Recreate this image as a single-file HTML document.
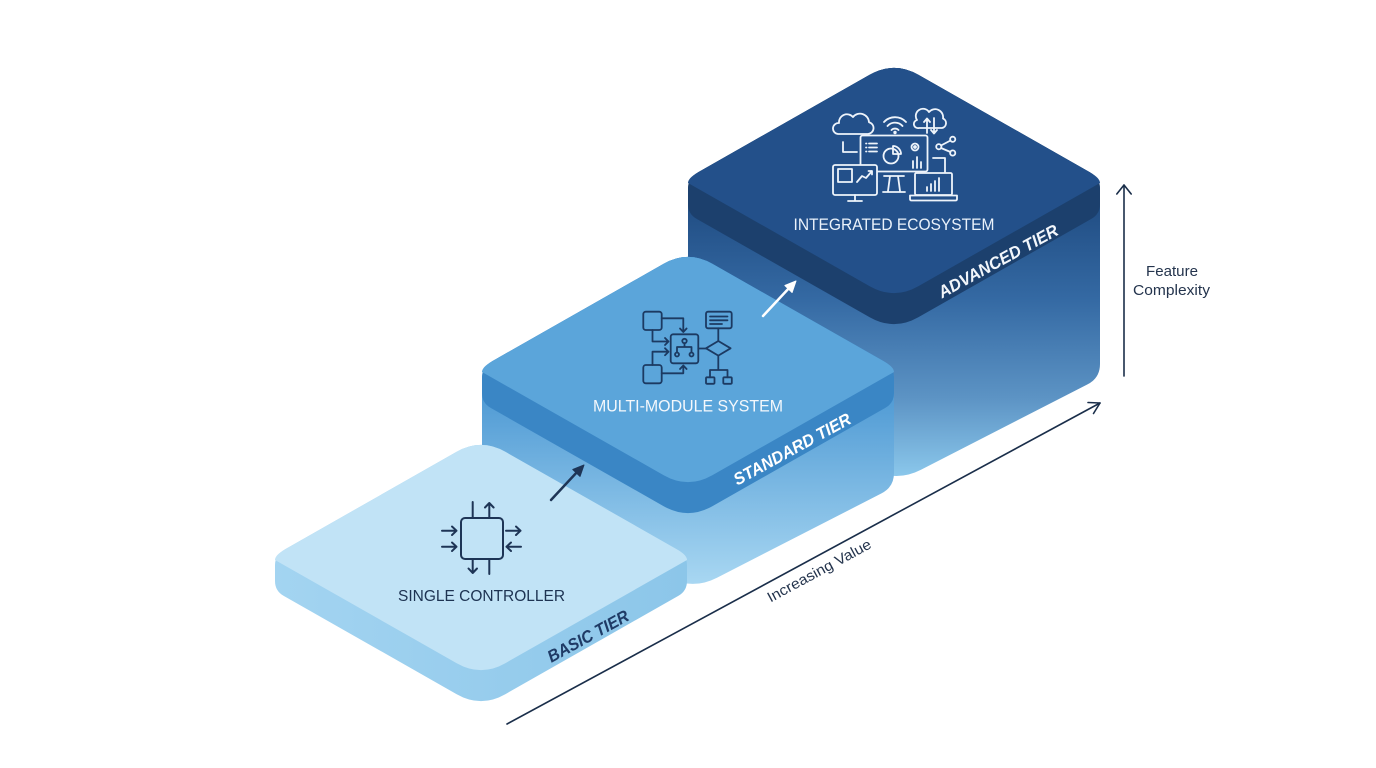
<!DOCTYPE html>
<html><head><meta charset="utf-8"><style>html,body{margin:0;padding:0;background:#fff;width:1376px;height:768px;overflow:hidden}</style></head>
<body>
<svg width="1376" height="768" viewBox="0 0 1376 768" xmlns="http://www.w3.org/2000/svg" font-family="'Liberation Sans', Arial, sans-serif">
<defs>
<linearGradient id="advBody" gradientUnits="userSpaceOnUse" x1="0" y1="200" x2="0" y2="482">
<stop offset="0" stop-color="#204c82"/><stop offset="0.35" stop-color="#3469a3"/><stop offset="0.7" stop-color="#5c93c4"/><stop offset="1" stop-color="#8ecbee"/>
</linearGradient>
<linearGradient id="stdBody" gradientUnits="userSpaceOnUse" x1="0" y1="400" x2="0" y2="590">
<stop offset="0" stop-color="#529cd5"/><stop offset="1" stop-color="#abd9f3"/>
</linearGradient>
<linearGradient id="basBand" gradientUnits="userSpaceOnUse" x1="-206" y1="0" x2="206" y2="0">
<stop offset="0" stop-color="#a3d4f1"/><stop offset="1" stop-color="#8cc6e9"/>
</linearGradient>
</defs>
<rect width="1376" height="768" fill="#fff"/>

<!-- ADVANCED -->
<path d="M918.3,74.8 L1089.6,172.1 Q1100,178 1100,190 L1100,364 Q1100,378 1087.5,384.4 L921,469.7 Q897,482 872.7,470.1 L700,385 Q688,380 688,370 L688,190 Q688,178 698.4,172.1 L869.7,74.8 Q894,61 918.3,74.8 Z" fill="url(#advBody)"/>
<g transform="translate(894,178)">
<path d="M24.3,-103.2 L195.6,-5.9 Q206,0 206,10 L206,26 Q206,36 197.3,40.9 L24.3,139.2 Q0,153 -24.3,139.2 L-197.3,40.9 Q-206,36 -206,26 L-206,10 Q-206,0 -195.6,-5.9 L-24.3,-103.2 Q0,-117 24.3,-103.2 Z" fill="#1c406d"/>
<path d="M24.3,-103.2 L195.6,-5.9 Q206,0 206,5 L24.3,108.2 Q0,122 -24.3,108.2 L-206,5 Q-206,0 -195.6,-5.9 L-24.3,-103.2 Q0,-117 24.3,-103.2 Z" fill="#23508a"/>
</g>
<!-- advanced icon -->
<g fill="none" stroke="#eef4fb" stroke-width="1.8" stroke-linecap="round" stroke-linejoin="round">
<path d="M838,134 H868 A6,6 0 0 0 869,122.2 A9,9 0 0 0 853,117 A8,8 0 0 0 839,123 A5.5,5.5 0 0 0 838,134 Z"/>
<path d="M884,122 A15,15 0 0 1 906,122 M887.5,126 A10,10 0 0 1 902.5,126 M891.5,130 A5,5 0 0 1 898.5,130"/>
<circle cx="895" cy="132.5" r="0.8" fill="#eef4fb"/>
<path d="M919,128 H942 A5,5 0 0 0 943,118.5 A8,8 0 0 0 929,112 A6.5,6.5 0 0 0 917,120 A4,4 0 0 0 919,128 Z"/>
<path d="M927,133 V119 M924,122 L927,118.5 L930,122 M934,118 V133 M931,130 L934,133.5 L937,130"/>
<rect x="860.5" y="135.5" width="67" height="36" rx="2" fill="#23508a"/>
<path d="M866,143.5 h0.5 M866,147.5 h0.5 M866,151.5 h0.5 M869,143.5 H877 M869,147.5 H877 M869,151.5 H877"/>
<circle cx="891" cy="156" r="7.5"/>
<path d="M893,146 A8,8 0 0 1 901,154 H893 Z"/>
<circle cx="915" cy="147" r="3.5"/><circle cx="915" cy="147" r="1"/>
<path d="M913,168 V161 M917,168 V157 M921,168 V162"/>
<path d="M843,142 V152 H857"/>
<circle cx="952.7" cy="139.3" r="2.6"/><circle cx="938.8" cy="146.7" r="2.6"/><circle cx="952.7" cy="153" r="2.6"/>
<path d="M941,145.5 L950.5,140.5 M941,148 L950.5,152"/>
<path d="M933,158 H945 V172"/>
<path d="M884,176 H904 M890,176 L888,191 M898,176 L900,191 M883,192 H905"/>
<rect x="833" y="165" width="44" height="30" rx="2" fill="#23508a"/>
<rect x="838" y="169" width="14" height="13"/>
<path d="M857,182 L862,176 L866,178 L872,171 M868.5,171 H872 V174.5"/>
<path d="M855,195 V200 M848,201 H862"/>
<rect x="915" y="173" width="37" height="22" rx="1.5" fill="#23508a"/>
<path d="M910,195.5 H957 V199 Q957,200.5 955.5,200.5 H911.5 Q910,200.5 910,199 Z" fill="#23508a"/>
<path d="M927,191 V187 M931,191 V184 M935,191 V181 M939,191 V178"/>
</g>
<text x="894" y="230" text-anchor="middle" font-size="16.5" fill="#eaf2fb" textLength="201" lengthAdjust="spacingAndGlyphs">INTEGRATED ECOSYSTEM</text>

<!-- STANDARD -->
<path d="M712.3,263.8 L883.6,361.1 Q894,367 894,379 L894,473 Q894,487 881.5,493.4 L717,577.7 Q693,590 669,578 L494,492 Q482,487 482,477 L482,379 Q482,367 492.4,361.1 L663.7,263.8 Q688,250 712.3,263.8 Z" fill="url(#stdBody)"/>
<g transform="translate(688,367)">
<path d="M24.3,-103.2 L195.6,-5.9 Q206,0 206,10 L206,26 Q206,36 197.3,40.9 L24.3,139.2 Q0,153 -24.3,139.2 L-197.3,40.9 Q-206,36 -206,26 L-206,10 Q-206,0 -195.6,-5.9 L-24.3,-103.2 Q0,-117 24.3,-103.2 Z" fill="#3a86c5"/>
<path d="M24.3,-103.2 L195.6,-5.9 Q206,0 206,5 L24.3,108.2 Q0,122 -24.3,108.2 L-206,5 Q-206,0 -195.6,-5.9 L-24.3,-103.2 Q0,-117 24.3,-103.2 Z" fill="#5ba5da"/>
</g>
<g fill="none" stroke="#1c3a62" stroke-width="1.8" stroke-linecap="round" stroke-linejoin="round">
<rect x="643.3" y="311.7" width="18.4" height="18.3" rx="2.5"/>
<rect x="643.3" y="365" width="18.4" height="18.3" rx="2.5"/>
<rect x="670.7" y="334.3" width="27.6" height="29" rx="2.5"/>
<circle cx="684.5" cy="341" r="2.2"/>
<path d="M684.5,343.2 V347 M677,347 H691.5 M677,347 V352.5 M691.5,347 V352.5"/>
<circle cx="677" cy="354.5" r="2"/><circle cx="691.5" cy="354.5" r="2"/>
<path d="M661.7,318.3 H683.3 V332 M680,328.5 L683.3,332 L686.6,328.5"/>
<path d="M652.5,330 V341.5 H668.5 M665,338 L668.5,341.5 L665,345"/>
<path d="M652.5,365 V351.7 H668.5 M665,348.2 L668.5,351.7 L665,355.2"/>
<path d="M661.7,373.3 H683.3 V365.5 M680,369 L683.3,365.5 L686.6,369"/>
<path d="M698.3,348.5 H706"/>
<polygon points="706,348.3 718.3,341 730.6,348.3 718.3,355.6"/>
<rect x="706" y="311.7" width="25.7" height="16.6" rx="2"/>
<path d="M710,316.5 H727.5 M710,320.3 H727.5 M710,324 H722"/>
<path d="M718.3,328.3 V341 M718.3,355.6 V370 M710,377.3 V370 H727.5 V377.3"/>
<rect x="706" y="377.3" width="8.5" height="6.5" rx="1"/>
<rect x="723.3" y="377.3" width="8.5" height="6.5" rx="1"/>
</g>
<text x="688" y="411.7" text-anchor="middle" font-size="16.5" fill="#f4f8fc" textLength="190" lengthAdjust="spacingAndGlyphs">MULTI-MODULE SYSTEM</text>

<!-- BASIC -->
<g transform="translate(481,555)">
<path d="M24.3,-103.2 L195.6,-5.9 Q206,0 206,10 L206,26 Q206,36 197.3,40.9 L24.3,139.2 Q0,153 -24.3,139.2 L-197.3,40.9 Q-206,36 -206,26 L-206,10 Q-206,0 -195.6,-5.9 L-24.3,-103.2 Q0,-117 24.3,-103.2 Z" fill="url(#basBand)"/>
<path d="M24.3,-103.2 L195.6,-5.9 Q206,0 206,5 L24.3,108.2 Q0,122 -24.3,108.2 L-206,5 Q-206,0 -195.6,-5.9 L-24.3,-103.2 Q0,-117 24.3,-103.2 Z" fill="#c1e3f6"/>
</g>
<g fill="none" stroke="#1e3556" stroke-width="2" stroke-linecap="round" stroke-linejoin="round">
<rect x="461" y="518" width="42" height="41" rx="4"/>
<path d="M472.7,502 V518"/>
<path d="M489.3,518 V503 M485,507.5 L489.3,503 L493.6,507.5"/>
<path d="M472.7,559 V573 M468.5,568.5 L472.7,573 L477,568.5"/>
<path d="M489.3,559 V574"/>
<path d="M442,530.7 H456.5 M452,526.5 L456.5,530.7 L452,535"/>
<path d="M442,546.7 H456.5 M452,542.5 L456.5,546.7 L452,551"/>
<path d="M506,530.7 H520.5 M516,526.5 L520.5,530.7 L516,535"/>
<path d="M521,546.7 H506.5 M511,542.5 L506.5,546.7 L511,551"/>
</g>
<text x="481.5" y="601" text-anchor="middle" font-size="16" fill="#1d3352" textLength="167" lengthAdjust="spacingAndGlyphs">SINGLE CONTROLLER</text>

<!-- tier labels -->
<text x="588" y="642" text-anchor="middle" font-size="17" font-weight="bold" font-style="italic" fill="#1f3b66" transform="rotate(-28.7 588 636)" textLength="90" lengthAdjust="spacingAndGlyphs">BASIC TIER</text>
<text x="792" y="455" text-anchor="middle" font-size="17" font-weight="bold" font-style="italic" fill="#ffffff" transform="rotate(-28.7 792 449)" textLength="131" lengthAdjust="spacingAndGlyphs">STANDARD TIER</text>
<text x="998" y="267" text-anchor="middle" font-size="17" font-weight="bold" font-style="italic" fill="#f2f6fb" transform="rotate(-28.7 998 261)" textLength="134" lengthAdjust="spacingAndGlyphs">ADVANCED TIER</text>

<!-- step arrows -->
<line x1="551" y1="500" x2="578" y2="471" stroke="#1e3556" stroke-width="2.5" stroke-linecap="round"/>
<polygon points="584,465 580,476.4 572.8,469.5" fill="#1e3556" stroke="#1e3556" stroke-width="1" stroke-linejoin="round"/>
<line x1="763" y1="316" x2="790" y2="287" stroke="#ffffff" stroke-width="2.5" stroke-linecap="round"/>
<polygon points="796,281 792.1,292.5 784.9,285.5" fill="#ffffff" stroke="#ffffff" stroke-width="1" stroke-linejoin="round"/>

<!-- axes -->
<g fill="none" stroke="#1a2e4a" stroke-width="1.6" stroke-linecap="round" stroke-linejoin="round">
<path d="M507,724 L1100,403"/>
<path d="M1088,402.5 L1100,403 L1093.5,413.5"/>
<path d="M1124,376 V185"/>
<path d="M1116.8,194 L1124,185 L1131.2,194"/>
</g>
<text x="821.5" y="575" text-anchor="middle" font-size="14.5" fill="#24344d" transform="rotate(-28.5 821.5 575)" textLength="116" lengthAdjust="spacingAndGlyphs">Increasing Value</text>
<text x="1172" y="276" text-anchor="middle" font-size="14.5" fill="#24344d" textLength="52" lengthAdjust="spacingAndGlyphs">Feature</text>
<text x="1171.5" y="295" text-anchor="middle" font-size="14.5" fill="#24344d" textLength="77" lengthAdjust="spacingAndGlyphs">Complexity</text>
</svg>
</body></html>
